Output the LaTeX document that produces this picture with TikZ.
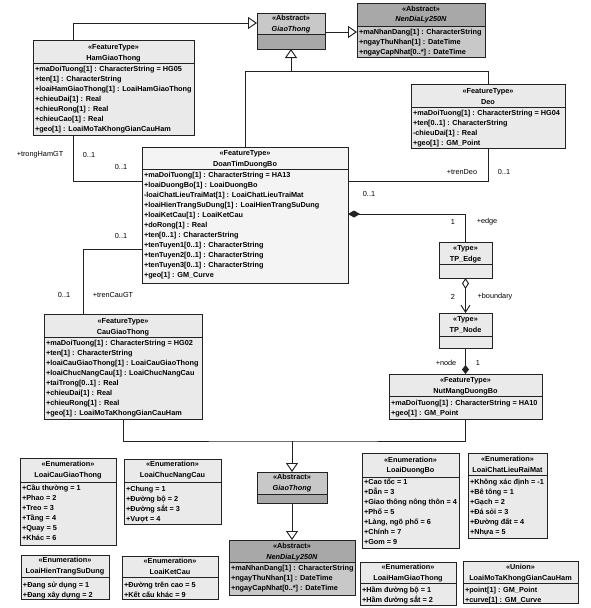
\documentclass[tikz,border=0pt]{standalone}
\usepackage{fontspec}
\setmainfont{Liberation Sans}
\usetikzlibrary{arrows.meta}
\definecolor{lc}{HTML}{222222}
\definecolor{feat}{HTML}{EAEAEA}
\definecolor{plainc}{HTML}{F4F4F4}
\definecolor{absA}{HTML}{A8A8A8}
\definecolor{absB}{HTML}{C8C8C8}
\tikzset{
  box/.style={draw=lc, line width=1pt, inner sep=0pt, outer sep=0pt},
  divline/.style={draw=lc, line width=0.9pt},
  hdr/.style={font=\fontsize{7.3}{10.5}\selectfont\bfseries, align=center, inner sep=0pt, text=black},
  attr/.style={font=\fontsize{7.3}{10}\selectfont\bfseries, align=left, inner sep=0pt, text=black},
  lbl/.style={font=\fontsize{7.3}{9}\selectfont, inner sep=0pt, text=black},
  conn/.style={draw=lc, line width=0.95pt},
  gen/.style={conn, -{Triangle[open, fill=white, length=9pt, width=12pt]}},
}
% #1 name, #2 body fill, #3 header fill, #4 x1, #5 y1, #6 x2, #7 y2, #8 divider y
\newcommand\umlclass[8]{%
  \node[box, fill=#2, minimum width={(#6-#4)*1pt}, minimum height={(#7-#5)*1pt}, anchor=north west] (#1) at (#4,#5) {};
  \fill[#3] (#1.north west) rectangle (#1.east |- 0,#8);
  \draw[box] (#1.north west) rectangle (#1.south east);
  \draw[divline] (#1.west |- 0,#8) -- (#1.east |- 0,#8);
}
\newcommand\umlhead[3]{\node[hdr, anchor=north] (#1-h) at (#1.north |- 0,#2-4.4) {\rule{0pt}{7pt}#3};}
\newcommand\umlattr[3]{\node[attr, anchor=north west, xshift=1.8pt] (#1-a) at (#1.west |- 0,#2-4.4) {\rule{0pt}{7pt}#3};}
\begin{document}
\begin{tikzpicture}[x=1pt,y=-1pt]
\fill[white] (0,0) rectangle (591,608);
\useasboundingbox (0,0) rectangle (591,608);

% ---------- top classes ----------
\umlclass{gt1}{absA}{absB}{257}{13}{325}{49}{34}
\umlhead{gt1}{18}{«Abstract»\\\textit{GiaoThong}}

\umlclass{nd1}{absB}{absA}{357}{3}{485}{57}{26}
\umlhead{nd1}{8.5}{«Abstract»\\\textit{NenDiaLy250N}}
\umlattr{nd1}{32}{+maNhanDang[1] : CharacterString\\+ngayThuNhan[1] : DateTime\\+ngayCapNhat[0..*] : DateTime}

\umlclass{ham}{feat}{feat}{33}{40}{194}{135}{63}
\umlhead{ham}{47}{«FeatureType»\\HamGiaoThong}
\umlattr{ham}{69}{+maDoiTuong[1] : CharacterString = HG05\\+ten[1] : CharacterString\\+loaiHamGiaoThong[1] : LoaiHamGiaoThong\\+chieuDai[1] : Real\\+chieuRong[1] : Real\\+chieuCao[1] : Real\\+geo[1] : LoaiMoTaKhongGianCauHam}

\umlclass{deo}{feat}{feat}{411}{84}{565}{148}{107}
\umlhead{deo}{91}{«FeatureType»\\Deo}
\umlattr{deo}{113}{+maDoiTuong[1] : CharacterString = HG04\\+ten[0..1] : CharacterString\\-chieuDai[1] : Real\\+geo[1] : GM\_Point}

\umlclass{doan}{plainc}{plainc}{142}{147}{348}{283}{169}
\umlhead{doan}{153}{«FeatureType»\\DoanTimDuongBo}
\umlattr{doan}{175}{+maDoiTuong[1] : CharacterString = HA13\\+loaiDuongBo[1] : LoaiDuongBo\\-loaiChatLieuTraiMat[1] : LoaiChatLieuTraiMat\\+loaiHienTrangSuDung[1] : LoaiHienTrangSuDung\\+loaiKetCau[1] : LoaiKetCau\\+doRong[1] : Real\\+ten[0..1] : CharacterString\\+tenTuyen1[0..1] : CharacterString\\+tenTuyen2[0..1] : CharacterString\\+tenTuyen3[0..1] : CharacterString\\+geo[1] : GM\_Curve}

\umlclass{edge}{feat}{feat}{439}{242}{492}{278}{264}
\umlhead{edge}{248}{«Type»\\TP\_Edge}

\umlclass{tpn}{feat}{feat}{439}{313}{492}{348}{336}
\umlhead{tpn}{319}{«Type»\\TP\_Node}

\umlclass{nut}{feat}{feat}{389}{374}{542}{419}{396}
\umlhead{nut}{380}{«FeatureType»\\NutMangDuongBo}
\umlattr{nut}{403}{+maDoiTuong[1] : CharacterString = HA10\\+geo[1] : GM\_Point}

\umlclass{cau}{feat}{feat}{44}{314}{202}{419}{337}
\umlhead{cau}{321}{«FeatureType»\\CauGiaoThong}
\umlattr{cau}{343}{+maDoiTuong[1] : CharacterString = HG02\\+ten[1] : CharacterString\\+loaiCauGiaoThong[1] : LoaiCauGiaoThong\\+loaiChucNangCau[1] : LoaiChucNangCau\\+taiTrong[0..1] : Real\\+chieuDai[1] : Real\\+chieuRong[1] : Real\\+geo[1] : LoaiMoTaKhongGianCauHam}

% ---------- lower abstract classes ----------
\umlclass{gt2}{absA}{absB}{257}{472}{327}{503}{494}
\umlhead{gt2}{477}{«Abstract»\\\textit{GiaoThong}}

\umlclass{nd2}{absB}{absA}{229}{540}{355}{595}{562}
\umlhead{nd2}{546}{«Abstract»\\\textit{NenDiaLy250N}}
\umlattr{nd2}{568}{+maNhanDang[1] : CharacterString\\+ngayThuNhan[1] : DateTime\\+ngayCapNhat[0..*] : DateTime}

% ---------- enumerations ----------
\umlclass{e1}{feat}{feat}{20}{458}{116}{545}{482}
\umlhead{e1}{464}{«Enumeration»\\LoaiCauGiaoThong}
\umlattr{e1}{487.5}{+Cầu thường = 1\\+Phao = 2\\+Treo = 3\\+Tầng = 4\\+Quay = 5\\+Khác = 6}

\umlclass{e2}{feat}{feat}{124}{459}{221}{524}{482}
\umlhead{e2}{464}{«Enumeration»\\LoaiChucNangCau}
\umlattr{e2}{488.5}{+Chung = 1\\+Đường bộ = 2\\+Đường sắt = 3\\+Vượt = 4}

\umlclass{e3}{feat}{feat}{21}{555}{109}{599}{577}
\umlhead{e3}{560}{«Enumeration»\\LoaiHienTrangSuDung}
\umlattr{e3}{584.5}{+Đang sử dụng = 1\\+Đang xây dựng = 2}

\umlclass{e4}{feat}{feat}{122}{556}{218}{599}{577}
\umlhead{e4}{561}{«Enumeration»\\LoaiKetCau}
\umlattr{e4}{584.5}{+Đường trên cao = 5\\+Kết cấu khác = 9}

\umlclass{e5}{feat}{feat}{362}{453}{459}{548}{477}
\umlhead{e5}{459.5}{«Enumeration»\\LoaiDuongBo}
\umlattr{e5}{482}{+Cao tốc = 1\\+Dẫn = 3\\+Giao thông nông thôn = 4\\+Phố = 5\\+Làng, ngõ phố = 6\\+Chính = 7\\+Gom = 9}

\umlclass{e6}{feat}{feat}{468}{453}{547}{538}{475}
\umlhead{e6}{459}{«Enumeration»\\LoaiChatLieuRaiMat}
\umlattr{e6}{481.5}{+Không xác định = -1\\+Bê tông = 1\\+Gạch = 2\\+Đá sỏi = 3\\+Đường đất = 4\\+Nhựa = 5}

\umlclass{e7}{feat}{feat}{360}{562}{456}{605}{583}
\umlhead{e7}{567}{«Enumeration»\\LoaiHamGiaoThong}
\umlattr{e7}{589.5}{+Hầm đường bộ = 1\\+Hầm đường sắt = 2}

\umlclass{e8}{feat}{feat}{463}{561}{578}{603}{583}
\umlhead{e8}{567}{«Union»\\LoaiMoTaKhongGianCauHam}
\umlattr{e8}{589.5}{+point[1] : GM\_Point\\+curve[1] : GM\_Curve}

% ---------- connectors ----------
\draw[gen] (73,0 |- ham.north) |- (gt1.west |- 0,23);
\draw[gen] (gt1.east |- 0,32) -- (nd1.west |- 0,32);
\draw[conn] (245,0 |- doan.north) |- (deo.north |- 0,71) -- (deo.north);
\draw[gen] (gt1.south |- 0,71) -- (gt1.south);
\draw[conn] (73,0 |- ham.south) |- (doan.west |- 0,181);
\draw[conn] (doan.west |- 0,249) -| (83,0 |- cau.north);
\draw[conn] (deo.south) |- (doan.east |- 0,181);
\draw[conn, {Diamond[length=12pt,width=7pt]}-] (doan.east |- 0,214) -| (edge.north);
\draw[conn, {Diamond[open,fill=white,length=11pt,width=7pt]}-{Straight Barb[length=7pt,width=9pt]}] (edge.south) -- (tpn.north);
\draw[conn, -{Diamond[length=9pt,width=7pt]}] (tpn.south) -- (nut.north -| tpn.south);
\draw[conn] (123,0 |- cau.south) |- (gt2.north |- 0,441) -| (nut.south);
\draw[gen] (gt2.north |- 0,441) -- (gt2.north);
\draw[gen] (gt2.south) -- (nd2.north);

% ---------- labels ----------
\node[lbl] (l1) at (40,155) {+trongHamGT};
\node[lbl] (l2) at (89,155) {0..1};
\node[lbl] (l3) at (121,167) {0..1};
\node[lbl] (l4) at (121,236) {0..1};
\node[lbl] (l5) at (64,295) {0..1};
\node[lbl] (l6) at (113,295) {+trenCauGT};
\node[lbl] (l7) at (462,172) {+trenDeo};
\node[lbl] (l8) at (504,172) {0..1};
\node[lbl] (l9) at (369,194) {0..1};
\node[lbl] (l10) at (453,222) {1};
\node[lbl] (l11) at (487,222) {+edge};
\node[lbl] (l12) at (453,297) {2};
\node[lbl] (l13) at (495,297) {+boundary};
\node[lbl] (l14) at (446,363) {+node};
\node[lbl] (l15) at (478,363) {1};
\end{tikzpicture}
\end{document}
